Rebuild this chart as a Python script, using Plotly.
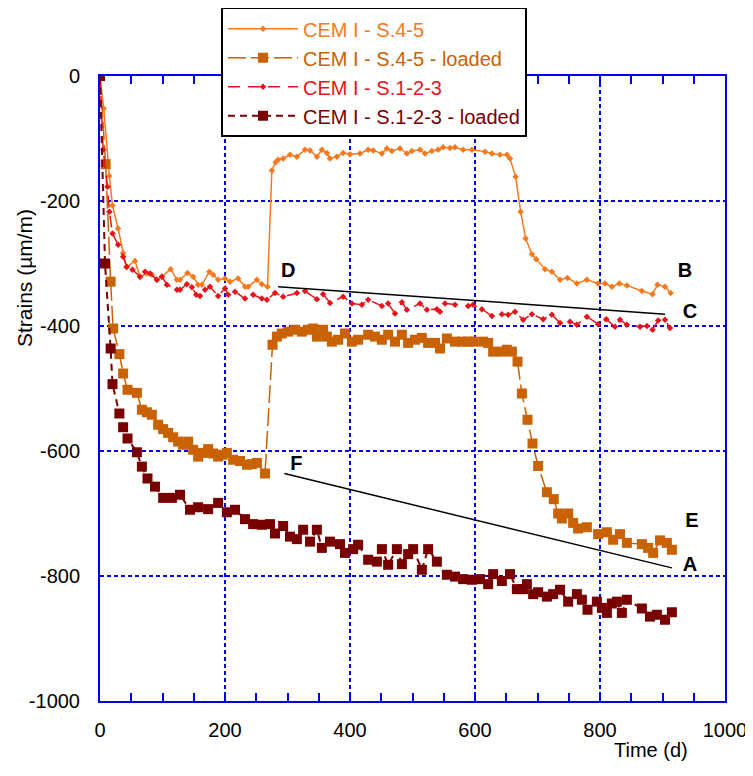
import plotly.graph_objects as go

# ---------------- data ----------------
t_s45 = [0, 6, 15, 20, 29, 37, 42, 56, 64, 75,
         83, 91, 99, 113, 123, 128, 140, 149, 157, 163,
         175, 181, 189, 200, 208, 221, 232, 237, 251, 259,
         268, 275, 281, 285, 293, 304, 315, 328, 336, 347,
         355, 363, 368, 379, 389, 400, 416, 429, 437, 451,
         459, 467, 480, 491, 499, 512, 520, 531, 541, 549,
         560, 568, 581, 595, 616, 627, 640, 651, 656, 665,
         673, 681, 691, 698, 712, 723, 736, 748, 763, 779,
         797, 808, 819, 831, 843, 867, 884, 892, 904, 913]
e_s45 = [0, -52, -160, -207, -244, -283, -306, -296, -321, -316,
         -318, -326, -321, -309, -326, -326, -315, -321, -334, -334,
         -313, -318, -326, -324, -329, -324, -337, -337, -326, -333,
         -337, -151, -138, -134, -132, -126, -129, -118, -119, -129,
         -118, -123, -132, -129, -123, -125, -124, -118, -119, -124,
         -116, -120, -116, -124, -120, -118, -124, -120, -118, -114,
         -115, -114, -118, -118, -121, -124, -126, -126, -132, -161,
         -217, -260, -285, -293, -309, -313, -326, -323, -332, -326,
         -332, -332, -337, -332, -335, -344, -349, -334, -337, -347]

t_s45_loaded = [0, 9, 17, 21, 31, 37, 44, 59, 67, 75,
                83, 93, 101, 109, 117, 125, 133, 141, 149, 157,
                165, 173, 181, 189, 196, 203, 213, 224, 235, 243,
                251, 264, 276, 283, 291, 301, 312, 323, 333, 341,
                347, 357, 363, 371, 381, 392, 403, 413, 429, 440,
                451, 461, 472, 483, 493, 504, 515, 525, 536, 544,
                555, 568, 579, 589, 597, 613, 621, 629, 643, 651,
                659, 668, 675, 684, 692, 701, 715, 726, 733, 739,
                749, 757, 765, 779, 797, 811, 821, 832, 843, 867,
                877, 885, 896, 907, 915]
e_s45_loaded = [0, -141, -329, -404, -445, -476, -502, -507, -534, -538,
                -542, -558, -565, -571, -578, -585, -590, -585, -598, -609,
                -603, -597, -604, -609, -606, -603, -614, -616, -622, -621,
                -619, -636, -430, -417, -412, -409, -406, -409, -406, -404,
                -417, -406, -417, -425, -422, -412, -425, -422, -414, -417,
                -422, -414, -425, -414, -427, -422, -419, -427, -427, -436,
                -420, -425, -425, -425, -425, -425, -427, -441, -441, -438,
                -441, -457, -508, -550, -588, -624, -666, -677, -700, -708,
                -700, -715, -724, -722, -733, -730, -742, -733, -747, -749,
                -755, -763, -743, -747, -758]

t_s123 = [0, 5, 12, 15, 20, 29, 37, 43, 52, 64,
          72, 80, 91, 99, 107, 123, 128, 139, 147, 154,
          160, 168, 176, 189, 200, 205, 216, 232, 245, 259,
          267, 280, 293, 315, 328, 347, 357, 368, 389, 403,
          419, 429, 451, 461, 472, 483, 491, 512, 523, 539,
          544, 552, 568, 589, 597, 611, 627, 643, 653, 664,
          677, 691, 709, 723, 736, 752, 763, 779, 797, 810,
          824, 832, 843, 864, 875, 884, 893, 904, 912]
e_s123 = [0, -118, -177, -217, -252, -270, -289, -305, -310, -321,
          -313, -316, -326, -321, -334, -342, -342, -333, -338, -350,
          -352, -342, -337, -352, -340, -350, -345, -356, -350, -356,
          -358, -347, -353, -347, -344, -357, -349, -363, -353, -364,
          -366, -358, -368, -364, -380, -362, -374, -364, -374, -373,
          -377, -364, -366, -368, -366, -373, -384, -381, -382, -377,
          -390, -381, -389, -382, -395, -393, -398, -385, -397, -389,
          -401, -390, -398, -401, -400, -406, -391, -390, -403]

t_s123_loaded = [0, 8, 17, 20, 31, 37, 44, 59, 67, 76,
                 88, 101, 115, 128, 144, 157, 173, 189, 203, 216,
                 232, 245, 259, 272, 280, 293, 304, 315, 325, 336,
                 347, 355, 368, 384, 392, 405, 413, 429, 443, 451,
                 461, 475, 483, 493, 501, 515, 525, 539, 555, 568,
                 581, 595, 608, 621, 629, 643, 656, 667, 677, 683,
                 693, 701, 715, 725, 736, 749, 763, 771, 780, 795,
                 803, 811, 819, 827, 835, 843, 867, 880, 891, 904,
                 915]
e_s123_loaded = [0, -300, -436, -493, -540, -562, -580, -602, -625, -644,
                 -657, -675, -675, -670, -694, -690, -693, -683, -698, -694,
                 -709, -717, -718, -717, -732, -720, -737, -741, -726, -745,
                 -726, -755, -745, -749, -763, -757, -750, -774, -777, -757,
                 -782, -757, -781, -765, -757, -790, -757, -777, -798, -801,
                 -805, -806, -805, -813, -797, -808, -797, -821, -821, -813,
                 -829, -826, -833, -829, -822, -841, -829, -838, -854, -841,
                 -851, -859, -844, -841, -859, -838, -852, -865, -862, -870,
                 -858]

# trend lines (D -> C and F -> A)
t_line_d = [285, 904]
e_line_d = [-337, -381]
t_line_f = [295, 915]
e_line_f = [-636, -787]

# letter labels
label_text = ["D", "B", "C", "F", "E", "A"]
label_t = [301, 936, 944, 314, 947, 944]
label_e = [-314, -314, -379, -622, -714, -784]

x_ticks = [0, 200, 400, 600, 800, 1000]
y_ticks = [0, -200, -400, -600, -800, -1000]

C_S45 = "#F57A1F"
C_S45L = "#C96205"
C_S123 = "#E5141A"
C_S123L = "#780000"
BLUE = "#0000EE"
FONT = "Liberation Sans, Arial, sans-serif"

fig = go.Figure()

fig.add_trace(go.Scatter(
    x=t_s45, y=e_s45, mode="lines+markers",
    name=f"<span style='color:{C_S45}'>CEM I - S.4-5</span>",
    line=dict(color=C_S45, width=1.5),
    marker=dict(symbol="diamond", size=5, color=C_S45)))
fig.add_trace(go.Scatter(
    x=t_s45_loaded, y=e_s45_loaded, mode="lines+markers",
    name=f"<span style='color:{C_S45L}'>CEM I - S.4-5 - loaded</span>",
    line=dict(color=C_S45L, width=1.5, dash="18px,5px"),
    marker=dict(symbol="square", size=10, color=C_S45L)))
fig.add_trace(go.Scatter(
    x=t_s123, y=e_s123, mode="lines+markers",
    name=f"<span style='color:{C_S123}'>CEM I - S.1-2-3</span>",
    line=dict(color=C_S123, width=1.5, dash="12px,8px"),
    marker=dict(symbol="diamond", size=5, color=C_S123)))
fig.add_trace(go.Scatter(
    x=t_s123_loaded, y=e_s123_loaded, mode="lines+markers",
    name=f"<span style='color:{C_S123L}'>CEM I - S.1-2-3 - loaded</span>",
    line=dict(color=C_S123L, width=2, dash="7px,5px"),
    marker=dict(symbol="square", size=10, color=C_S123L)))

fig.add_trace(go.Scatter(x=t_line_d, y=e_line_d, mode="lines",
                         line=dict(color="black", width=1.5), showlegend=False))
fig.add_trace(go.Scatter(x=t_line_f, y=e_line_f, mode="lines",
                         line=dict(color="black", width=1.5), showlegend=False))
fig.add_trace(go.Scatter(x=label_t, y=label_e, mode="text", text=label_text,
                         textfont=dict(family="Liberation Sans, Arial", size=20, color="black"),
                         texttemplate="<b>%{text}</b>", showlegend=False))

# page body has an 8px margin: figure is 745x768, placed at (8, 8)
fig.update_layout(
    width=745, height=768,
    margin=dict(l=92, r=28, t=68, b=75, autoexpand=False),
    paper_bgcolor="white", plot_bgcolor="white",
    font=dict(family=FONT, size=20, color="black"),
    showlegend=True,
    legend=dict(x=0.1936, y=1.11, xanchor="left", yanchor="top",
                bgcolor="white", bordercolor="black", borderwidth=2,
                font=dict(family=FONT, size=20), tracegroupgap=0,
                itemwidth=70),
    xaxis=dict(range=[0, 1000], tickvals=x_ticks, ticktext=[str(v) for v in x_ticks],
               showgrid=True, gridcolor=BLUE, griddash="4px,3px", gridwidth=1.5,
               showline=True, linecolor=BLUE, linewidth=2, mirror="ticks",
               ticks="inside", ticklen=8, tickcolor=BLUE, tickwidth=1.5,
               minor=dict(dtick=50, tick0=0, ticks="inside", ticklen=8,
                          tickcolor=BLUE, tickwidth=1.5, showgrid=False),
               zeroline=False, ticklabelstandoff=10, automargin=False,
               tickfont=dict(family=FONT, size=20, color="black")),
    yaxis=dict(range=[-1000, 0], tickvals=y_ticks, ticktext=[str(v) for v in y_ticks],
               showgrid=True, gridcolor=BLUE, griddash="4px,3px", gridwidth=1.5,
               showline=True, linecolor=BLUE, linewidth=2, mirror=True,
               ticks="", zeroline=False, ticklabelstandoff=14, automargin=False,
               tickfont=dict(family=FONT, size=20, color="black")),
    annotations=[
        dict(text="Time (d)", xref="paper", yref="paper", x=0.8816, y=-0.078,
             xanchor="center", yanchor="middle", showarrow=False,
             font=dict(family=FONT, size=20, color="black")),
        dict(text="Strains (µm/m)", xref="paper", yref="paper", x=-0.122, y=0.79,
             xanchor="center", yanchor="top", textangle=-90, showarrow=False,
             font=dict(family=FONT, size=21, color="black")),
    ],
)

fig.write_html("out.html")
